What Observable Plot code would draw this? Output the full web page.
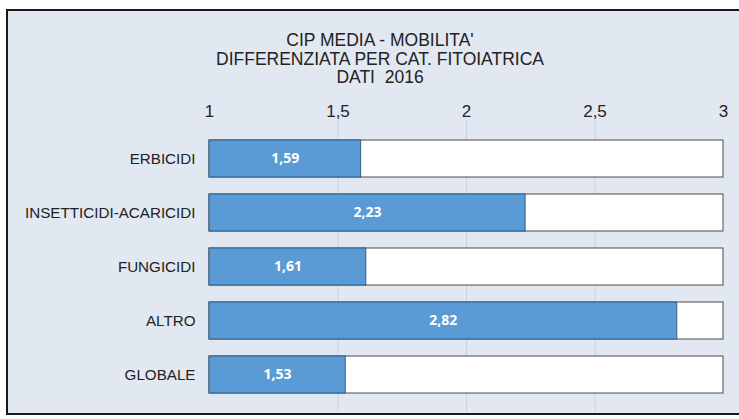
<!DOCTYPE html>
<html><head><meta charset="utf-8">
<script src="https://cdn.jsdelivr.net/npm/d3@7"></script>
<script src="https://cdn.jsdelivr.net/npm/@observablehq/plot@0.6"></script>
<style>
body{margin:0;background:#fff;width:739px;height:419px;position:relative;overflow:hidden;font-family:"Liberation Sans",Arial,sans-serif;}
#panel{position:absolute;left:6px;top:9px;width:735px;height:406px;border:2px solid #1a1a1a;background:#e1e8f1;box-sizing:border-box;}
#title{position:absolute;left:0;width:760px;top:31px;text-align:center;font-size:17.5px;line-height:18.5px;color:#222;}
#chart{position:absolute;left:0;top:0;}
</style></head>
<body>
<div id="panel"></div>
<div id="title">CIP MEDIA - MOBILITA'<br>DIFFERENZIATA PER CAT. FITOIATRICA<br>DATI&nbsp; 2016</div>
<div id="chart"></div>
<script>
const categories = ["ERBICIDI", "INSETTICIDI-ACARICIDI", "FUNGICIDI", "ALTRO", "GLOBALE"];
const values = [1.59, 2.23, 1.61, 2.82, 1.53];
const tickValues = [1, 1.5, 2, 2.5, 3];
const tickLabels = ["1", "1,5", "2", "2,5", "3"];
const axisMin = 1, axisMax = 3;

const data = categories.map((c, i) => ({cat: c, v: values[i], label: String(values[i]).replace(".", ",")}));

const chart = Plot.plot({
  width: 739,
  height: 419,
  marginLeft: 209,
  marginRight: 16,
  marginTop: 120,
  marginBottom: 7,
  style: {background: "transparent", fontFamily: "'Liberation Sans', Arial, sans-serif"},
  x: {domain: [axisMin, axisMax], label: null},
  y: {domain: categories, padding: 0.324, label: null},
  marks: [
    Plot.ruleX(tickValues.slice(1, -1), {stroke: "#c9d3df", strokeWidth: 1}),
    Plot.barX(data, {y: "cat", x1: axisMin, x2: axisMax, fill: "#fff", stroke: "#4a4a4a", strokeWidth: 1}),
    Plot.barX(data, {y: "cat", x1: axisMin, x2: "v", fill: "#5b9bd5", stroke: "#2f5d86", strokeWidth: 1}),
    Plot.text(data, {y: "cat", x: d => (axisMin + d.v) / 2, text: "label", fill: "#fff", fontWeight: "bold", fontSize: 14, fontFamily: "'Open Sans', sans-serif"}),
    Plot.axisX({anchor: "top", ticks: tickValues, tickFormat: d => tickLabels[tickValues.indexOf(d)], tickSize: 0, tickPadding: 4, fontSize: 17, fill: "#222", label: null}),
    Plot.axisY({anchor: "left", tickSize: 0, tickPadding: 14, fontSize: 15.2, fill: "#222", label: null})
  ]
});
document.getElementById("chart").append(chart);
</script>
</body></html>
